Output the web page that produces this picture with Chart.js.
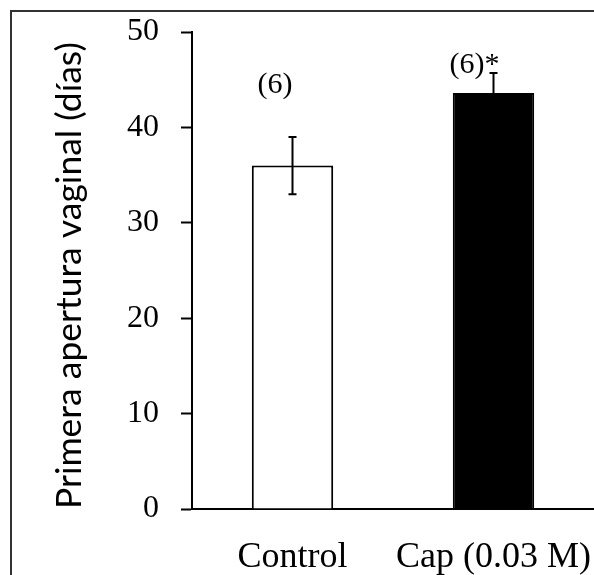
<!DOCTYPE html>
<html lang="es">
<head>
<meta charset="UTF-8">
<title>Primera apertura vaginal</title>
<script src="https://cdn.jsdelivr.net/npm/chart.js@4.4.0/dist/chart.umd.min.js"></script>
<style>
  html, body { margin: 0; padding: 0; background: #fff; }
  #frame {
    position: absolute; left: 10px; top: 10px; width: 590px; height: 563px;
    border-left: 2px solid #333; border-top: 2px solid #333; border-bottom: 1px solid #ccc;
  }
  #wrap { position: absolute; left: 0; top: 0; width: 594px; height: 575px; }
</style>
</head>
<body>
<div id="frame"></div>
<div id="wrap"><canvas id="vaginalChart"></canvas></div>
<script>
// datos
var groups = ['Control', 'Cap (0.03 M)'];
var means = [36.0, 43.6];
var errors = [3.0, 2.1];
var nLabels = ['(6)', '(6)*'];
var barFill = ['#ffffff', '#000000'];
var yTicks = [0, 10, 20, 30, 40, 50];

var serif = '"Liberation Serif", "Times New Roman", serif';

// error bars + (n) labels
var extrasPlugin = {
    id: 'extras',
    afterDatasetsDraw: function(chart, args, opts) {
        var ctx = chart.ctx;
        var xs = chart.scales.x, ys = chart.scales.y;
        ctx.save();
        ctx.strokeStyle = '#000';
        ctx.lineWidth = 2;
        for (var i = 0; i < means.length; i++) {
            var x = xs.getPixelForValue(i);
            var yTop = ys.getPixelForValue(means[i] + errors[i]);
            var yBot = ys.getPixelForValue(means[i] - errors[i]);
            ctx.beginPath();
            ctx.moveTo(x, yTop); ctx.lineTo(x, yBot);
            ctx.moveTo(x - 4, yTop); ctx.lineTo(x + 4, yTop);
            ctx.moveTo(x - 4, yBot); ctx.lineTo(x + 4, yBot);
            ctx.stroke();
        }
        ctx.fillStyle = '#000';
        ctx.font = '30px ' + serif;
        ctx.textAlign = 'right';
        ctx.textBaseline = 'alphabetic';
        for (var j = 0; j < nLabels.length; j++) {
            var lx = xs.getPixelForValue(j) + opts.dx[j];
            var ly = ys.getPixelForValue(opts.level[j]);
            ctx.fillText(nLabels[j], lx, ly);
        }
        ctx.restore();
    }
};

var ctx = document.getElementById('vaginalChart').getContext('2d');
var vaginalChart = new Chart(ctx, {
    type: 'bar',
    data: {
        labels: groups,
        datasets: [{
            data: means,
            backgroundColor: barFill,
            borderColor: '#000',
            borderWidth: 2,
            borderSkipped: 'bottom',
            categoryPercentage: 1.0,
            barPercentage: 0.405
        }]
    },
    options: {
        responsive: true,
        maintainAspectRatio: false,
        animation: false,
        layout: { padding: { top: 32, right: 0, left: 0, bottom: 0 } },
        plugins: {
            legend: { display: false },
            tooltip: { enabled: false },
            extras: { dx: [0, 6], level: [43.6, 45.7] }
        },
        scales: {
            x: {
                grid: { display: false, drawTicks: false },
                border: { display: true, color: '#000', width: 2 },
                ticks: {
                    color: '#000',
                    padding: 27,
                    font: { family: serif, size: 36 }
                },
                afterFit: function(scale) {
                    scale.height = 66;
                    scale.paddingLeft = 0;
                    scale.paddingRight = 0;
                }
            },
            y: {
                min: 0,
                max: 50,
                afterBuildTicks: function(scale) {
                    scale.ticks = yTicks.map(function(v) { return { value: v }; });
                },
                grid: {
                    drawOnChartArea: false,
                    drawTicks: true,
                    tickLength: 11,
                    tickWidth: 2,
                    tickColor: '#000'
                },
                border: { display: true, color: '#000', width: 2 },
                ticks: {
                    color: '#000',
                    padding: 22,
                    font: { family: serif, size: 32 }
                },
                title: {
                    display: true,
                    text: 'Primera apertura vaginal (días)',
                    color: '#000',
                    align: 'start',
                    font: { family: 'Lato', size: 35.5 },
                    padding: { top: 48, bottom: 0 }
                },
                afterFit: function(scale) {
                    scale.width = 192;
                    scale.paddingTop = 0;
                    scale.paddingBottom = 0;
                }
            }
        }
    },
    plugins: [extrasPlugin]
});
</script>
</body>
</html>
